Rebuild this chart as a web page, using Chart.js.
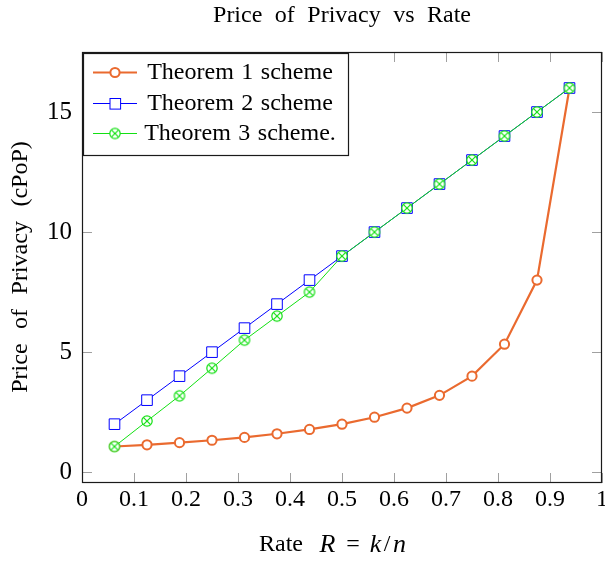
<!DOCTYPE html>
<html><head><meta charset="utf-8">
<script src="https://cdn.jsdelivr.net/npm/chart.js@4/dist/chart.umd.min.js"></script>
<style>html,body{margin:0;padding:0;background:#fff;overflow:hidden}#wrap{width:605px;height:564px;position:relative}</style>
</head><body><div id="wrap"><canvas id="c" width="605" height="564"></canvas></div>
<script>
// ---- data ----
const rates = [0.0625,0.125,0.1875,0.25,0.3125,0.375,0.4375,0.5,0.5625,0.625,0.6875,0.75,0.8125,0.875,0.9375];
const theorem1 = [1.07,1.14,1.23,1.33,1.45,1.6,1.78,2.0,2.29,2.67,3.2,4.0,5.33,8.0,16.0];
const theorem2 = [2,3,4,5,6,7,8,9,10,11,12,13,14,15,16];
const theorem3 = [1.07,2.13,3.18,4.33,5.5,6.5,7.5,9,10,11,12,13,14,15,16];
const xTicks = [0,0.1,0.2,0.3,0.4,0.5,0.6,0.7,0.8,0.9,1];
const yTicks = [0,5,10,15];
const seriesNames = ['Theorem 1 scheme','Theorem 2 scheme','Theorem 3 scheme.'];
const titleText = 'Price of Privacy vs Rate';
const yTitle = 'Price of Privacy (cPoP)';

const FONT = '"Liberation Serif", "Times New Roman", serif';
const ORANGE = '#EA6A2F', BLUE = '#0000FF', GREEN = '#12E012';

function otimesImage(){
  const cv = document.createElement('canvas');
  cv.width = 14; cv.height = 14;
  const g = cv.getContext('2d');
  const c = 7, r = 5.2;
  g.fillStyle = '#fff'; g.strokeStyle = GREEN; g.lineWidth = 1.2;
  g.beginPath(); g.arc(c,c,r,0,Math.PI*2); g.fill(); g.stroke();
  const d = r*Math.SQRT1_2;
  g.beginPath(); g.moveTo(c-d,c-d); g.lineTo(c+d,c+d); g.moveTo(c-d,c+d); g.lineTo(c+d,c-d); g.stroke();
  return cv;
}
const otimes = otimesImage();

const pts = arr => rates.map((x,i)=>({x, y: arr[i]}));

// draw words with LaTeX-like interword spacing, centred on cx
function spacedText(ctx, text, cx, cy, gap){
  const words = text.split(' ');
  const ws = words.map(w=>ctx.measureText(w).width);
  const total = ws.reduce((a,b)=>a+b,0) + gap*(words.length-1);
  let x = cx - total/2;
  ctx.textAlign = 'left';
  words.forEach((w,i)=>{ ctx.fillText(w, x, cy); x += ws[i] + gap; });
}

const TL = 10;
const decor = {
  id:'decor',
  beforeDatasetsDraw(chart){
    const {ctx, chartArea:a, scales:{x,y}} = chart;
    ctx.save();
    ctx.strokeStyle = '#a0a0a0'; ctx.lineWidth = 1;
    ctx.beginPath();
    x.ticks.forEach(t=>{
      const px = Math.round(x.getPixelForValue(t.value))+0.5;
      ctx.moveTo(px,a.bottom); ctx.lineTo(px,a.bottom-TL);
      ctx.moveTo(px,a.top); ctx.lineTo(px,a.top+TL);
    });
    y.ticks.forEach(t=>{
      const py = Math.round(y.getPixelForValue(t.value))+0.5;
      ctx.moveTo(a.left,py); ctx.lineTo(a.left+TL,py);
      ctx.moveTo(a.right,py); ctx.lineTo(a.right-TL,py);
    });
    ctx.stroke();
    // x tick labels
    ctx.fillStyle = '#000'; ctx.font = '24px ' + FONT;
    ctx.textAlign = 'center'; ctx.textBaseline = 'middle';
    x.ticks.forEach(t=>{ ctx.fillText(String(t.value), x.getPixelForValue(t.value), a.bottom + 17); });
    ctx.restore();
  },
  afterDatasetsDraw(chart){
    const {ctx, chartArea:a} = chart;
    ctx.save();
    // frame
    ctx.strokeStyle = '#1a1a1a'; ctx.lineWidth = 1.2;
    ctx.strokeRect(a.left+0.5, a.top+0.5, a.right-a.left-1, a.bottom-a.top-1);
    // title
    ctx.fillStyle = '#000';
    ctx.font = '24px ' + FONT;
    ctx.textBaseline = 'middle';
    spacedText(ctx, titleText, 342, 16, 12.5);
    // y title (rotated)
    ctx.save();
    ctx.translate(21, 267);
    ctx.rotate(-Math.PI/2);
    ctx.font = '24px ' + FONT;
    spacedText(ctx, yTitle, 0, 0, 14.5);
    ctx.restore();
    // x title with math italics (piece centres)
    const parts = [['Rate','24px ',281],['R','italic 26px ',327.5],['=','24px ',353],['k','italic 26px ',375.5],['/','24px ',387],['n','italic 26px ',399.5]];
    ctx.textAlign = 'center';
    parts.forEach(p=>{ctx.font = p[1]+FONT; ctx.fillText(p[0], p[2], 545);});
    // legend
    const lx = a.left+1, ly = a.top+1, lw = 266, lh = 103;
    ctx.fillStyle = '#fff'; ctx.fillRect(lx, ly, lw, lh);
    ctx.strokeStyle = '#1a1a1a'; ctx.lineWidth = 1.2;
    ctx.strokeRect(lx+0.5, ly+0.5, lw-1, lh-1);
    const rows = [72, 103, 133];
    const styles = [
      {c:ORANGE, w:2.2, m:'circle'},
      {c:BLUE, w:1, m:'rect'},
      {c:GREEN, w:1, m:'otimes'}
    ];
    rows.forEach((ry,i)=>{
      const s = styles[i];
      ctx.strokeStyle = s.c; ctx.lineWidth = s.w;
      ctx.beginPath(); ctx.moveTo(93, ry+0.5); ctx.lineTo(137, ry+0.5); ctx.stroke();
      if (s.m==='circle'){
        ctx.fillStyle='#fff'; ctx.lineWidth=2;
        ctx.beginPath(); ctx.arc(115, ry+0.5, 4.6, 0, Math.PI*2); ctx.fill(); ctx.stroke();
      } else if (s.m==='rect'){
        ctx.fillStyle='#fff'; ctx.lineWidth=1;
        ctx.fillRect(110, ry-4.5, 10.6, 10.6); ctx.strokeRect(110, ry-4.5, 10.6, 10.6);
      } else {
        ctx.drawImage(otimes, 115-7, ry+0.5-7);
      }
      ctx.fillStyle='#000'; ctx.font = '24px '+FONT; ctx.textBaseline='middle';
      spacedText(ctx, seriesNames[i], 240, ry+1, 7.5);
    });
    ctx.restore();
  }
};

new Chart(document.getElementById('c'), {
  type:'line',
  data:{datasets:[
    {label:seriesNames[0], data:pts(theorem1), borderColor:ORANGE, backgroundColor:'#fff', borderWidth:2.2,
     pointRadius:4.6, pointBorderWidth:2, pointBackgroundColor:'#fff', pointBorderColor:ORANGE, order:3, tension:0},
    {label:seriesNames[1], data:pts(theorem2), borderColor:BLUE, backgroundColor:'#fff', borderWidth:1,
     pointStyle:'rect', pointRadius:7.5, pointBorderWidth:1, pointBackgroundColor:'#fff', pointBorderColor:BLUE, order:2, tension:0},
    {label:seriesNames[2], data:pts(theorem3), borderColor:GREEN, backgroundColor:'#fff', borderWidth:1,
     pointStyle:otimes, pointRadius:6, order:1, tension:0}
  ]},
  options:{
    responsive:false, animation:false, devicePixelRatio:1,
    layout:{autoPadding:false, padding:{top:52,right:3,left:0,bottom:0}},
    plugins:{legend:{display:false}, tooltip:{enabled:false}, title:{display:false}},
    scales:{
      x:{type:'linear', min:0, max:1,
        afterBuildTicks:s=>{s.ticks = xTicks.map(v=>({value:v}));},
        afterFit:s=>{s.height = 81; s.paddingLeft = 0; s.paddingRight = 0;},
        grid:{display:false, drawTicks:false}, border:{display:false},
        ticks:{display:false}
      },
      y:{type:'linear', min:-0.45, max:17.5,
        afterBuildTicks:s=>{s.ticks = yTicks.map(v=>({value:v}));},
        afterFit:s=>{s.width = 82; s.paddingTop = 0; s.paddingBottom = 0;},
        grid:{display:false, drawTicks:false}, border:{display:false},
        title:{display:false},
        ticks:{color:'#000', font:{family:FONT, size:25}, padding:10, autoSkip:false,
          callback:v=>String(v)}
      }
    }
  },
  plugins:[decor]
});
</script></body></html>
